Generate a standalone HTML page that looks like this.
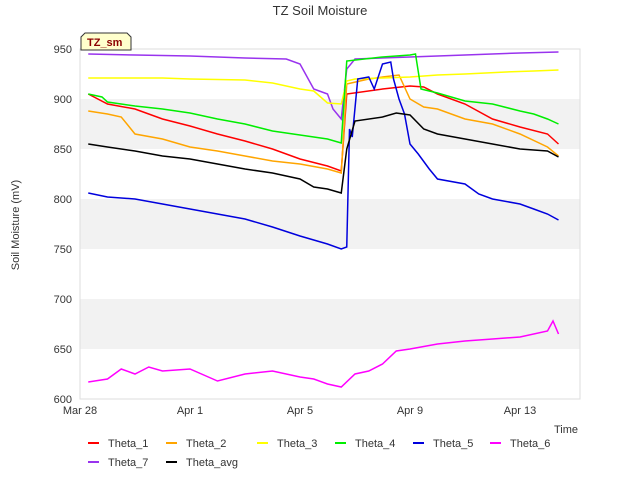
<!DOCTYPE html>
<html><head><meta charset="utf-8"><style>
body{margin:0;background:#fff;font-family:"Liberation Sans",sans-serif}
svg text{font-family:"Liberation Sans",sans-serif}
</style></head><body>
<svg id="chart" width="640" height="480">
<text x="320" y="15" text-anchor="middle" font-size="13" fill="#333">TZ Soil Moisture</text>
<g id="bands"></g>
<g id="axes"></g>
<g id="series"></g>
<text x="19" y="225" transform="rotate(-90 19 225)" text-anchor="middle" font-size="11" fill="#333">Soil Moisture (mV)</text>
<text x="566" y="433" text-anchor="middle" font-size="11" fill="#333">Time</text>
<g>
<path d="M81,50 L81,37 L85,33 L127,33 L131,37 L131,50 Z" fill="#ffffcc" stroke="#333" stroke-width="1"/>
<text x="87" y="46" font-size="11" font-weight="bold" fill="#8b0000">TZ_sm</text>
</g>
<g id="legend"></g>
</svg>
<script>
const yTicks=[600,650,700,750,800,850,900,950];
const xTickDays=[0,4,8,12,16];
const xTickLabels=["Mar 28","Apr 1","Apr 5","Apr 9","Apr 13"];
const seriesNames=["Theta_1","Theta_2","Theta_3","Theta_4","Theta_5","Theta_6","Theta_7","Theta_avg"];
const t1=[0.3,1,2,3,4,5,6,7,8,9,9.5,9.7,11,12,12.5,13,14,15,16,17,17.4];
const v1=[905,895,890,880,873,865,858,850,840,833,828,905,910,913,912,905,895,880,872,865,855];
const t2=[0.3,1,1.5,2,3,4,5,6,7,8,9,9.5,9.7,10.5,11,11.6,12,12.5,13,14,15,16,17,17.4];
const v2=[888,885,882,865,860,852,848,843,838,835,830,826,915,920,922,924,900,892,890,880,875,865,852,843];
const t3=[0.3,3,4,6,7,8,8.5,9,9.5,9.7,10,11,12,13,14,15.5,16.5,17.4];
const v3=[921,921,920,919,916,910,908,896,895,918,920,921,922,924,925,927,928,929];
const t4=[0.3,0.8,1,2,3,4,5,6,7,8,9,9.5,9.7,11,12,12.2,12.4,13,14,15,16,16.5,17,17.4];
const v4=[905,902,897,893,890,886,880,875,868,864,860,856,938,942,944,945,910,906,898,895,888,885,880,875];
const t5=[0.3,1,2,3,4,5,6,7,8,9,9.5,9.7,9.8,9.9,10.1,10.5,10.7,11,11.3,11.4,11.6,11.8,12,12.3,12.7,13,14,14.5,15,16,16.5,17,17.4];
const v5=[806,802,800,795,790,785,780,772,763,755,750,752,870,862,920,922,910,935,937,920,900,885,855,845,830,820,815,805,800,795,790,785,779];
const t6=[0.3,1,1.5,2,2.5,3,4,5,6,7,8,8.5,9,9.5,10,10.5,11,11.5,12,13,14,15,16,17,17.2,17.4];
const v6=[617,620,630,625,632,628,630,618,625,628,622,620,615,612,625,628,635,648,650,655,658,660,662,668,678,665];
const t7=[0.3,2,4,6,7.5,8,8.3,8.5,9,9.2,9.5,9.7,10,12,14,16,17.4];
const v7=[945,944,943,941,940,935,920,910,905,890,880,930,940,942,944,946,947];
const t8=[0.3,1,2,3,4,5,6,7,8,8.5,9,9.5,9.7,10,11,11.5,12,12.5,13,14,15,16,17,17.4];
const v8=[855,852,848,843,840,835,830,826,820,812,810,806,850,878,882,886,884,870,865,860,855,850,848,842];
const colors=["#ff0000","#ffa500","#ffff00","#00ee00","#0000dd","#ff00ff","#9933ee","#000000"];
const X=d=>80+d*27.5, Y=v=>49+(950-v);
const NS="http://www.w3.org/2000/svg";
function mk(tag,attrs,parent){const e=document.createElementNS(NS,tag);for(const k in attrs)e.setAttribute(k,attrs[k]);parent.appendChild(e);return e;}
const bands=document.getElementById('bands'),axes=document.getElementById('axes'),ser=document.getElementById('series'),leg=document.getElementById('legend');
mk('rect',{x:80,y:49,width:500,height:350,fill:'#fff'},bands);
for(let i=0;i<yTicks.length-1;i++){ if(i%2===1){ const b=mk('rect',{x:80,y:Y(yTicks[i+1]),width:500,height:Y(yTicks[i])-Y(yTicks[i+1]),fill:'#f2f2f2'},bands);

}}
mk('rect',{x:80,y:49,width:500,height:350,fill:'none',stroke:'#ddd'},axes);
yTicks.forEach(v=>{const t=mk('text',{x:72,y:Y(v)+4,'text-anchor':'end','font-size':11,fill:'#333'},axes);t.textContent=v;

});
xTickDays.forEach((d,i)=>{const t=mk('text',{x:X(d),y:414,'text-anchor':'middle','font-size':11,fill:'#333'},axes);t.textContent=xTickLabels[i];

});
const data=[[t1,v1],[t2,v2],[t3,v3],[t4,v4],[t5,v5],[t6,v6],[t7,v7],[t8,v8]];
const order=[6,0,1,2,3,4,5,7];
order.forEach(i=>{const [ts,vs]=data[i];const p=mk('polyline',{points:ts.map((d,j)=>X(d)+','+Y(vs[j])).join(' '),fill:'none',stroke:colors[i],'stroke-width':1.5},ser);

});
const lpos=[[88,443],[166,443],[257,443],[335,443],[413,443],[490,443],[88,462],[166,462]];
seriesNames.forEach((n,i)=>{const g=mk('g',{},leg);


const [x,y]=lpos[i];mk('line',{x1:x,y1:y,x2:x+11,y2:y,stroke:colors[i],'stroke-width':2},g);
const t=mk('text',{x:x+20,y:y+4,'font-size':11,fill:'#333'},g);t.textContent=n;});
</script>
</body></html>
